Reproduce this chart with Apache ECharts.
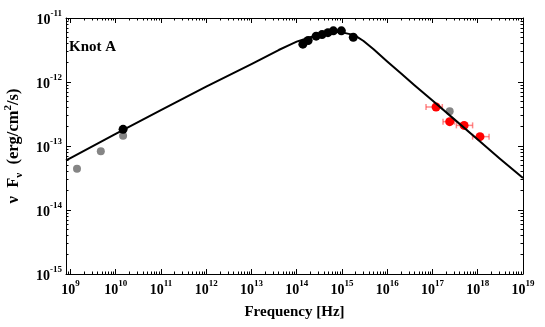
<!DOCTYPE html>
<html>
<head>
<meta charset="utf-8">
<script src="https://cdn.jsdelivr.net/npm/echarts@6/dist/echarts.min.js"></script>
<style>
  html, body { margin: 0; padding: 0; background: #fff; }
  #chart { width: 545px; height: 327px; }
</style>
</head>
<body>
<div id="chart"></div>
<script>
// model curve
const modelFreq = [8e8, 1e9, 1e10, 1e11, 1e12, 1e13, 2e13, 4e13, 7e13, 1e14, 2e14, 3e14, 4.5e14, 7e14, 1e15, 1.5e15, 2e15, 3e15, 5e15, 1e16, 2e16, 4e16, 1e17, 3e17, 1e18, 3e18, 1e19];
const modelFlux = [5.94e-14, 6.46e-14, 1.55e-13, 3.63e-13, 8.5e-13, 1.905e-12, 2.455e-12, 3.16e-12, 3.8e-12, 4.27e-12, 5.0e-12, 5.5e-12, 5.9e-12, 6.1e-12, 5.96e-12, 5.6e-12, 5.25e-12, 4.37e-12, 3.24e-12, 2.09e-12, 1.365e-12, 8.9e-13, 5.13e-13, 2.63e-13, 1.26e-13, 6.45e-14, 3.16e-14];

// grey points
const greyFreq = [1.4e9, 4.7e9, 1.46e10, 2.4e17];
const greyFlux = [4.4e-14, 8.3e-14, 1.44e-13, 3.5e-13];

// black points
const blackFreq = [1.46e10, 1.37e14, 1.79e14, 2.69e14, 3.63e14, 4.9e14, 6.46e14, 9.7e14, 1.78e15];
const blackFlux = [1.82e-13, 3.9e-12, 4.45e-12, 5.2e-12, 5.5e-12, 5.9e-12, 6.3e-12, 6.3e-12, 5.0e-12];

// red X-ray points with frequency error bars
const xrayFreq = [1.2e17, 2.4e17, 5.0e17, 1.12e18];
const xrayFlux = [4.07e-13, 2.4e-13, 2.1e-13, 1.4e-13];
const xrayLo = [7.2e16, 1.71e17, 3.37e17, 7.7e17];
const xrayHi = [1.65e17, 3.04e17, 7.7e17, 1.78e18];

// ticks
const xMajor = [1e9, 1e10, 1e11, 1e12, 1e13, 1e14, 1e15, 1e16, 1e17, 1e18, 1e19];
const yMajor = [1e-15, 1e-14, 1e-13, 1e-12, 1e-11];

function minorsOf(majors) {
  let out = [];
  for (let d = 0; d < majors.length; d++) {
    for (let k = 2; k <= 9; k++) out.push(k * majors[d]);
  }
  return out;
}
const xMinor = [9e8].concat(minorsOf(xMajor.slice(0, -1)));
const yMinor = minorsOf(yMajor.slice(0, -1));

const FONT = 'Liberation Serif';
const pair = (xs, ys) => xs.map((x, i) => [x, ys[i]]);

const myChart = echarts.init(document.getElementById('chart'));

const supRich = {
  b: { fontFamily: FONT, fontWeight: 'bold', fontSize: 14, color: '#000', lineHeight: 18, verticalAlign: 'bottom' },
  e: { fontFamily: FONT, fontWeight: 'bold', fontSize: 9, color: '#000', lineHeight: 10, verticalAlign: 'top' }
};
function powLabel(v) {
  const e = Math.round(Math.log10(v));
  return '{b|10}{e|' + e + '}';
}

const X = { min: 8e8, max: 1e19 };
const Y = { min: 1e-15, max: 1e-11 };

function tickAxis(pos, range, values, len, showLine) {
  return {
    type: 'log', logBase: 10, position: pos, min: range.min, max: range.max,
    axisLine: { show: showLine, lineStyle: { color: '#000', width: 1 } },
    axisTick: { show: true, inside: true, length: len, customValues: values, lineStyle: { color: '#000', width: 1 } },
    axisLabel: { show: false },
    splitLine: { show: false }
  };
}

const xMain = tickAxis('bottom', X, xMajor, 5, true);
xMain.axisLabel = { show: true, customValues: xMajor, margin: 5, formatter: powLabel, rich: supRich };
xMain.name = 'Frequency [Hz]';
xMain.nameLocation = 'middle';
xMain.nameGap = 31;
xMain.nameTextStyle = { fontFamily: FONT, fontWeight: 'bold', fontSize: 15, color: '#000' };

const yMain = tickAxis('left', Y, yMajor, 5, true);
yMain.axisLabel = { show: true, customValues: yMajor, margin: 4, formatter: powLabel, rich: supRich };
yMain.name = '{n|ν  F}{s|ν}{n|  (erg/cm}{p|2}{n|/s)}';
yMain.nameLocation = 'middle';
yMain.nameGap = 31;
yMain.nameTextStyle = {
  rich: {
    n: { fontFamily: FONT, fontWeight: 'bold', fontSize: 16.5, color: '#000', lineHeight: 22, verticalAlign: 'middle' },
    s: { fontFamily: FONT, fontWeight: 'bold', fontSize: 11, color: '#000', lineHeight: 10, verticalAlign: 'bottom' },
    p: { fontFamily: FONT, fontWeight: 'bold', fontSize: 11, color: '#000', lineHeight: 10, verticalAlign: 'top' }
  }
};

const option = {
  backgroundColor: '#fff',
  animation: false,
  grid: { left: 66, right: 22, top: 18, bottom: 53, outerBoundsMode: 'none', containLabel: false },
  xAxis: [
    xMain,
    tickAxis('bottom', X, xMinor, 2.5, false),
    tickAxis('top', X, xMajor, 5, true),
    tickAxis('top', X, xMinor, 2.5, false)
  ],
  yAxis: [
    yMain,
    tickAxis('left', Y, yMinor, 2.5, false),
    tickAxis('right', Y, yMajor, 5, true),
    tickAxis('right', Y, yMinor, 2.5, false)
  ],
  graphic: [{
    type: 'text', left: 69, top: 40,
    style: { text: 'Knot A', font: 'bold 15px "Liberation Serif"', fill: '#000' }
  }],
  series: [
    {
      type: 'scatter', name: 'grey', data: pair(greyFreq, greyFlux),
      symbolSize: 8, itemStyle: { color: '#858585', opacity: 1 }, z: 2
    },
    {
      type: 'custom', name: 'xerr',
      data: xrayFreq.map((f, i) => [xrayLo[i], xrayHi[i], xrayFlux[i]]),
      encode: { x: [0, 1], y: 2 },
      renderItem: function (params, api) {
        const lo = api.coord([api.value(0), api.value(2)]);
        const hi = api.coord([api.value(1), api.value(2)]);
        const cap = 3;
        const st = { stroke: 'rgba(255,60,60,0.6)', lineWidth: 1.5 };
        return {
          type: 'group', children: [
            { type: 'line', shape: { x1: lo[0], y1: lo[1], x2: hi[0], y2: hi[1] }, style: st },
            { type: 'line', shape: { x1: lo[0], y1: lo[1] - cap, x2: lo[0], y2: lo[1] + cap }, style: st },
            { type: 'line', shape: { x1: hi[0], y1: hi[1] - cap, x2: hi[0], y2: hi[1] + cap }, style: st }
          ]
        };
      },
      z: 3
    },
    {
      type: 'scatter', name: 'red', data: pair(xrayFreq, xrayFlux),
      symbolSize: 9, itemStyle: { color: '#ff0000', opacity: 1 }, z: 4
    },
    {
      type: 'scatter', name: 'black', data: pair(blackFreq, blackFlux),
      symbolSize: 9, itemStyle: { color: '#000', opacity: 1 }, z: 4
    },
    {
      type: 'line', name: 'model', data: pair(modelFreq, modelFlux),
      smooth: false, showSymbol: false, symbol: 'none',
      lineStyle: { color: '#000', width: 2, join: 'round' }, z: 5
    }
  ]
};

myChart.setOption(option);
</script>
</body>
</html>
